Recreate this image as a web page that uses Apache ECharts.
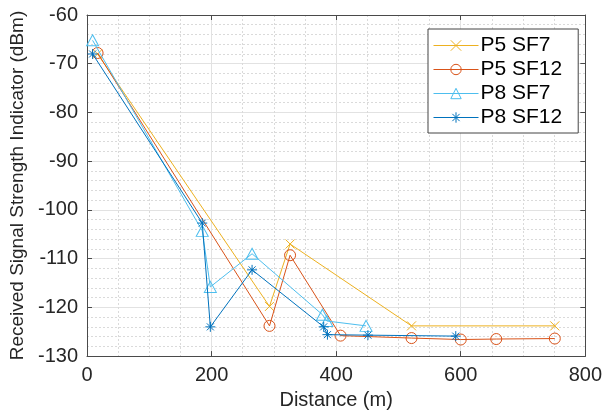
<!DOCTYPE html>
<html>
<head>
<meta charset="utf-8">
<script src="https://cdn.jsdelivr.net/npm/echarts@6/dist/echarts.min.js"></script>
<style>
html,body{margin:0;padding:0;background:#fff;}
#chart{width:605px;height:415px;}
</style>
</head>
<body>
<div id="chart"></div>
<script>
// ---- data ----
const seriesNames = ['P5 SF7', 'P5 SF12', 'P8 SF7', 'P8 SF12'];

const p5sf7Dist = [17, 293, 326, 521, 751];
const p5sf7Rssi = [-68, -119.8, -107, -123.8, -123.8];

const p5sf12Dist = [17, 293, 326, 407, 521, 600, 657, 751];
const p5sf12Rssi = [-67.8, -123.8, -109.3, -125.8, -126.3, -126.6, -126.5, -126.4];

const p8sf7Dist = [9, 185, 198, 265, 378, 385, 448];
const p8sf7Rssi = [-65.2, -104.3, -115.8, -109, -121.5, -122.8, -123.8];

const p8sf12Dist = [9, 185, 198, 265, 380, 386, 451, 592];
const p8sf12Rssi = [-68, -102.7, -124, -112.3, -124, -125.6, -125.7, -125.9];

const xTicks = [0, 200, 400, 600, 800];
const yTicks = [-130, -120, -110, -100, -90, -80, -70, -60];

// ---- styling ----
const colors = ['#EDB120', '#D95319', '#4DBEEE', '#0072BD'];
const symbols = [
  'path://M0,0L10,10M10,0L0,10',
  'path://M10,5A5,5,0,1,1,0,5A5,5,0,1,1,10,5Z',
  'path://M5,0L10,9L0,9Z',
  'path://M5,0L5,10M0,5L10,5M1.5,1.5L8.5,8.5M8.5,1.5L1.5,8.5'
];
const symbolSizes = [9, 11, [12, 11], 10];
const FONT = 'Liberation Sans, Arial, Helvetica, sans-serif';
const axisColor = '#4a4a4a';
const textColor = '#262626';

function zip(a, b) { return a.map((v, i) => [v, b[i]]); }
const allData = [
  zip(p5sf7Dist, p5sf7Rssi),
  zip(p5sf12Dist, p5sf12Rssi),
  zip(p8sf7Dist, p8sf7Rssi),
  zip(p8sf12Dist, p8sf12Rssi)
];

function makeX(pos, main) {
  return {
    type: 'value', position: pos, min: xTicks[0], max: xTicks[xTicks.length - 1],
    interval: xTicks[1] - xTicks[0],
    name: main ? 'Distance (m)' : '', nameLocation: 'middle', nameGap: 32,
    nameTextStyle: { fontFamily: FONT, fontSize: 20, color: textColor },
    axisLine: { show: true, onZero: false, lineStyle: { color: axisColor, width: 1 } },
    axisTick: { show: true, inside: true, length: 5, lineStyle: { color: axisColor } },
    axisLabel: { show: main, margin: 9, fontFamily: FONT, fontSize: 20, color: textColor },
    splitLine: { show: main, lineStyle: { color: '#E2E2E2', width: 1 } },
    minorTick: { show: false, splitNumber: 4 },
    minorSplitLine: { show: main, lineStyle: { color: '#DADADA', width: 1, type: [2, 2] } }
  };
}
function makeY(pos, main) {
  return {
    type: 'value', position: pos, min: yTicks[0], max: yTicks[yTicks.length - 1],
    interval: yTicks[1] - yTicks[0],
    name: main ? 'Received Signal Strength Indicator (dBm)' : '', nameLocation: 'middle', nameGap: 56,
    nameTextStyle: { fontFamily: FONT, fontSize: 19, color: textColor },
    axisLine: { show: true, onZero: false, lineStyle: { color: axisColor, width: 1 } },
    axisTick: { show: true, inside: true, length: 5, lineStyle: { color: axisColor } },
    axisLabel: { show: main, margin: 9, fontFamily: FONT, fontSize: 20, color: textColor },
    splitLine: { show: main, lineStyle: { color: '#E2E2E2', width: 1 } },
    minorTick: { show: false, splitNumber: 5 },
    minorSplitLine: { show: main, lineStyle: { color: '#DADADA', width: 1, type: [2, 2] } }
  };
}

const chart = echarts.init(document.getElementById('chart'), null, { renderer: 'canvas' });
chart.setOption({
  animation: false,
  backgroundColor: '#ffffff',
  grid: { left: 87, right: 19, top: 15, bottom: 54, containLabel: false },
  xAxis: [makeX('bottom', true), makeX('top', false)],
  yAxis: [makeY('left', true), makeY('right', false)],
  legend: {
    orient: 'vertical', left: 428, top: 29,
    padding: [6, 16, 5, 5], itemGap: 3, itemWidth: 45, itemHeight: 13,
    backgroundColor: '#ffffff', borderColor: '#444444', borderWidth: 1,
    lineStyle: { width: 1 },
    itemStyle: { borderWidth: 1 },
    textStyle: { fontFamily: FONT, fontSize: 21, color: '#000000', padding: [0, 0, 0, -3] },
    data: seriesNames
  },
  series: seriesNames.map((n, i) => ({
    name: n, type: 'line', data: allData[i], xAxisIndex: 0, yAxisIndex: 0,
    symbol: symbols[i], symbolSize: symbolSizes[i], showAllSymbol: true,
    lineStyle: { color: colors[i], width: 1 },
    itemStyle: { color: 'rgba(255,255,255,0)', borderColor: colors[i], borderWidth: 1 },
    emphasis: { disabled: true },
    z: 3 + i
  }))
});
</script>
</body>
</html>
